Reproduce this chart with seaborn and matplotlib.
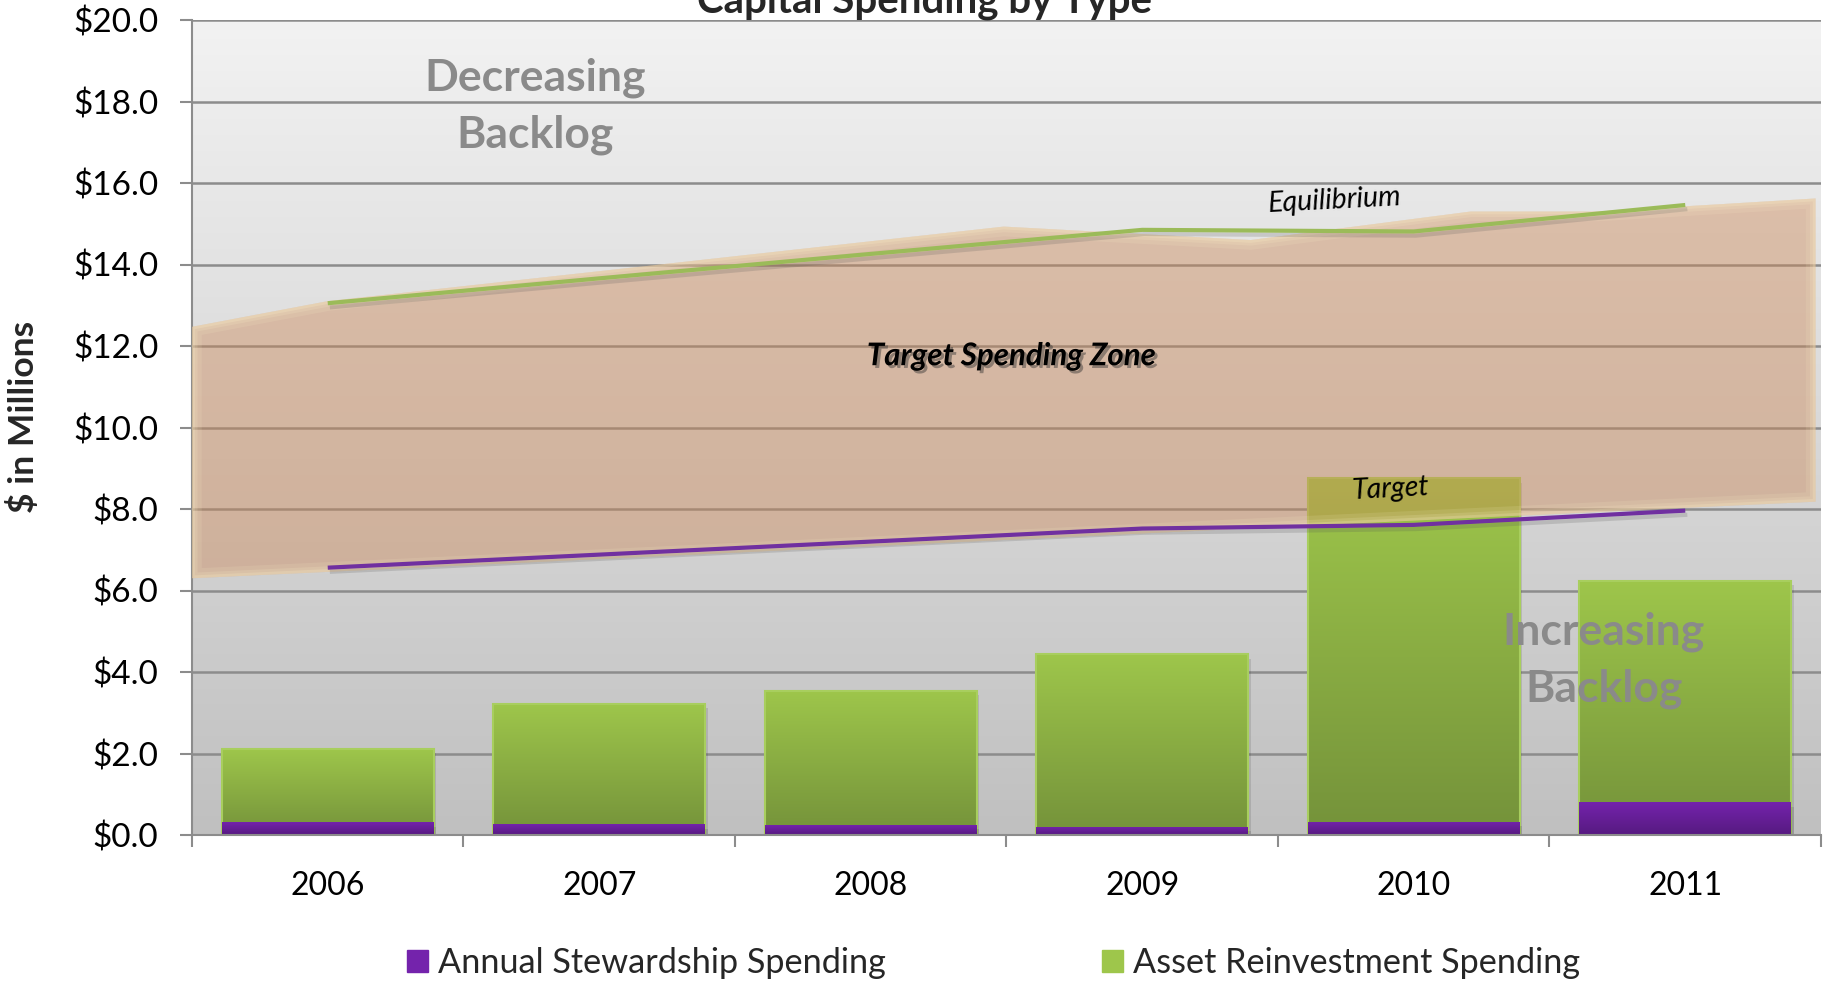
import numpy as np
import pandas as pd
import matplotlib
matplotlib.use("Agg")
import matplotlib.pyplot as plt
import matplotlib.patheffects as pe
from matplotlib.patches import Polygon, Rectangle
from matplotlib.colors import LinearSegmentedColormap
import seaborn as sns

# ---- data ($ millions) ----
years = ["2006", "2007", "2008", "2009", "2010", "2011"]
stewardship = [0.31, 0.26, 0.24, 0.20, 0.33, 0.80]
reinvestment = [1.80, 2.95, 3.30, 4.23, 8.42, 5.44]
equilibrium = [13.05, 13.66, 14.26, 14.85, 14.81, 15.46]
target = [6.56, 6.88, 7.20, 7.52, 7.61, 7.96]

# outline of the shaded "target spending zone" (category position, $ millions)
zone_top_x = [-0.5, 0.0, 2.49, 3.40, 4.21, 4.68, 5.48]
zone_top_y = [12.47, 13.10, 14.93, 14.60, 15.30, 15.30, 15.62]
zone_bottom_x = [5.48, -0.5]
zone_bottom_y = [8.18, 6.30]

yticks = np.arange(0, 20.1, 2)
ytick_labels = [f"${v:.1f}" for v in yticks]
legend_labels = ["Annual Stewardship Spending", "Asset Reinvestment Spending"]

GREEN_TOP, GREEN_BOT = "#9EC64B", "#74923A"
PURPLE_TOP, PURPLE_BOT = "#7423AC", "#561A80"
GREEN_LINE, PURPLE_LINE = "#9BBB59", "#7030A0"
GRID = "#8C8C8C"
ZONE = "#CC8654"

sns.set_theme(style="white")
plt.rcParams["font.family"] = ["Lato", "DejaVu Sans"]

fig = plt.figure(figsize=(18.24, 9.83), dpi=100)
W, H = 1824, 983
ax = fig.add_axes([192 / W, 1 - 835 / H, (1821 - 192) / W, (835 - 20) / H])

df = pd.DataFrame({"year": years, "stewardship": stewardship,
                   "reinvestment": reinvestment})
df["total"] = df["stewardship"] + df["reinvestment"]

# plot-area background: vertical grey gradient
bg = LinearSegmentedColormap.from_list("bg", ["#C0C0C0", "#F2F2F2"])
ax.imshow(np.linspace(0, 1, 256).reshape(-1, 1), cmap=bg, origin="lower",
          extent=[-0.5, 5.5, 0, 20], aspect="auto", zorder=0)

# stacked bars: total (green) with stewardship (purple) on top of it
sns.barplot(data=df, x="year", y="total", color=GREEN_TOP, saturation=1,
            width=0.78, ax=ax, zorder=2, linewidth=0)
sns.barplot(data=df, x="year", y="stewardship", color=PURPLE_TOP, saturation=1,
            width=0.78, ax=ax, zorder=2.3, linewidth=0)

green_cm = LinearSegmentedColormap.from_list("g", [GREEN_BOT, GREEN_TOP])
purple_cm = LinearSegmentedColormap.from_list("p", [PURPLE_BOT, PURPLE_TOP])
grad = np.linspace(0, 1, 256).reshape(-1, 1)
n = len(years)
for i, p in enumerate(ax.patches):
    cm = green_cm if i < n else purple_cm
    z = p.get_zorder()
    p.set_path_effects([pe.SimplePatchShadow(offset=(2, -3), shadow_rgbFace="k",
                                             alpha=0.12), pe.Normal()])
    x0, y0, w, h = p.get_x(), p.get_y(), p.get_width(), p.get_height()
    im = ax.imshow(grad, cmap=cm, origin="lower", extent=[x0, x0 + w, y0, y0 + h],
                   aspect="auto", zorder=z + 0.05)
    im.set_clip_path(p)
    if i < n:
        ax.add_patch(Rectangle((x0, y0), w, h, fc="none", ec="#A8CE5E",
                               lw=1.5, zorder=z + 0.1))

# translucent target spending zone with a soft light rim
verts = list(zip(zone_top_x, zone_top_y)) + list(zip(zone_bottom_x, zone_bottom_y))
zone = Polygon(verts, closed=True, fc=ZONE, ec="none", alpha=0.42, zorder=3)
ax.add_patch(zone)
for lw, a in [(14, 0.12), (8, 0.15), (4, 0.2)]:
    glow = Polygon(verts, closed=True, fc="none", ec="#FFF6CC", lw=lw, alpha=a,
                   zorder=3.1, joinstyle="round")
    ax.add_patch(glow)
    glow.set_clip_path(zone)

# equilibrium and target lines
xpos = np.arange(n)
shadow = [pe.SimpleLineShadow(offset=(1.5, -3), shadow_color="#555555", alpha=0.2),
          pe.Normal()]
sns.lineplot(x=xpos, y=equilibrium, color=GREEN_LINE, lw=3.0, ax=ax, zorder=4,
             solid_capstyle="butt", path_effects=shadow)
sns.lineplot(x=xpos, y=target, color=PURPLE_LINE, lw=3.0, ax=ax, zorder=4,
             solid_capstyle="butt", path_effects=shadow)

# axes styling
ax.set_xlim(-0.5, 5.5)
ax.set_ylim(0, 20)
ax.set_yticks(yticks)
ax.set_yticklabels(ytick_labels)
ax.set_xticks(xpos)
ax.set_xticklabels(years)
ax.set_xticks(np.arange(-0.5, n, 1.0), minor=True)
ax.set_xlabel("")
ax.set_ylabel("")
ax.yaxis.grid(True, color=GRID, lw=1.8)
ax.xaxis.grid(False)
ax.set_axisbelow(True)
for s in ["top", "right"]:
    ax.spines[s].set_visible(False)
for s in ["left", "bottom"]:
    ax.spines[s].set_color(GRID)
    ax.spines[s].set_linewidth(1.5)
ax.tick_params(axis="y", length=8.3, width=1.5, color=GRID, pad=16,
               labelsize=24, labelcolor="black", left=True)
ax.tick_params(axis="x", which="major", length=0, pad=26, labelsize=23,
               labelcolor="black", bottom=True)
ax.tick_params(axis="x", which="minor", length=8.4, width=1.5, color=GRID,
               bottom=True)

# annotations
ax.text(0.764, 17.88, "Decreasing\nBacklog", ha="center", va="center",
        fontsize=32, weight="bold", color="#8A8A8A", linespacing=1.5, zorder=5)
ax.text(4.70, 4.28, "Increasing\nBacklog", ha="center", va="center",
        fontsize=32, weight="bold", color="#8A8A8A", linespacing=1.5, zorder=5)
ax.text(2.518, 11.75, "Target Spending Zone", ha="center", va="center",
        fontsize=22.5, weight="bold", style="italic", color="black", zorder=5,
        path_effects=[pe.SimplePatchShadow(offset=(2, -2), shadow_rgbFace="#333333",
                                           alpha=0.45), pe.Normal()])
ax.text(3.71, 15.58, "Equilibrium", ha="center", va="center", fontsize=20.5,
        style="italic", color="black", rotation=3, zorder=5)
ax.text(3.914, 8.49, "Target", ha="center", va="center", fontsize=20.5,
        style="italic", color="black", rotation=3, zorder=5)

fig.text(925 / W, 1 - 12 / H, "Capital Spending by Type", ha="center",
         va="baseline", fontsize=29, weight="bold")
fig.text(24 / W, 1 - 417 / H, "$ in Millions", rotation=90, ha="center",
         va="center", fontsize=25.5, weight="bold")

handles = [Rectangle((0, 0), 1, 1, fc=PURPLE_TOP, ec=PURPLE_TOP),
           Rectangle((0, 0), 1, 1, fc=GREEN_TOP, ec=GREEN_TOP)]
fig.legend(handles, legend_labels, loc="center", bbox_to_anchor=(0.5447, 1 - 963 / H),
           ncol=2, frameon=False, fontsize=24.7, handlelength=0.6, handleheight=0.6,
           handletextpad=0.3, columnspacing=6.3)

fig.savefig("out.png", dpi=100)
